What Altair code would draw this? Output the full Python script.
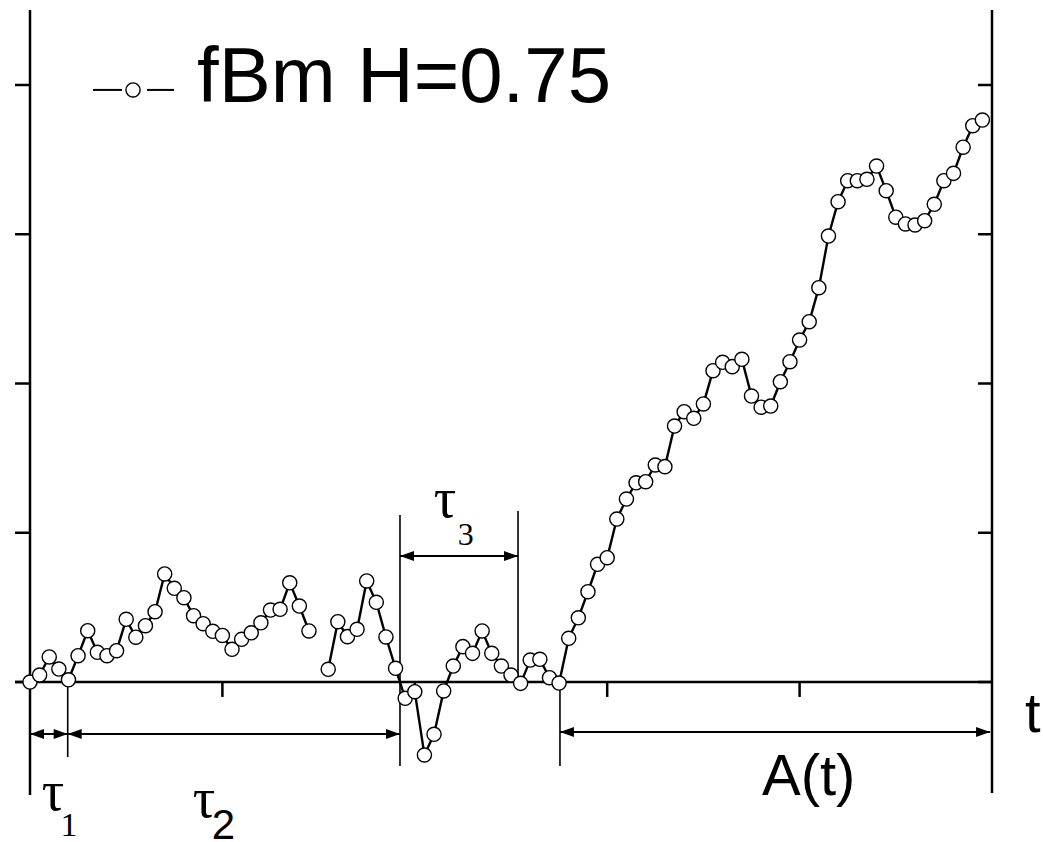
import altair as alt
import pandas as pd

# ---- data: fBm sample path (step index, value in y-tick units) ----
steps = list(range(100))
values = [0.000, 0.047, 0.168, 0.087, 0.015, 0.176, 0.344, 0.199, 0.176, 0.210,
          0.420, 0.300, 0.377, 0.471, 0.724, 0.628, 0.565, 0.444, 0.391, 0.340,
          0.312, 0.219, 0.286, 0.330, 0.397, 0.482, 0.487, 0.665, 0.509, 0.342,
          None, 0.085, 0.404, 0.304, 0.353, 0.677, 0.534, 0.302, 0.092, -0.109,
          -0.065, -0.489, -0.350, -0.060, 0.107, 0.237, 0.192, 0.342, 0.192, 0.107,
          0.047, -0.009, 0.147, 0.152, 0.029, -0.007, 0.293, 0.430, 0.605, 0.789,
          0.833, 1.092, 1.226, 1.335, 1.342, 1.454, 1.443, 1.715, 1.811, 1.767,
          1.863, 2.086, 2.142, 2.113, 2.162, 1.916, 1.841, 1.849, 2.012, 2.146,
          2.291, 2.414, 2.642, 2.988, 3.218, 3.359, 3.359, 3.368, 3.457, 3.292,
          3.114, 3.069, 3.062, 3.091, 3.201, 3.359, 3.408, 3.583, 3.727, 3.765]

y_ticks = [0, 1, 2, 3, 4]
x_ticks = [20, 40, 60, 80]
legend_label = "fBm H=0.75"

# annotation markers (step units / y units)
tau1_end = 3.92
tau2_end = 38.46
tau3_end = 50.73
a_start = 55.09
x_max = 100
y_min, y_max = -0.757, 4.5025

rows = [{"x": s, "y": v, "seg": 0 if s < 30 else 1}
        for s, v in zip(steps, values) if v is not None]
df = pd.DataFrame(rows)

xs = alt.Scale(domain=[0, x_max], nice=False, zero=False)
ys = alt.Scale(domain=[y_min, y_max], nice=False, zero=False)
X = alt.X("x:Q", scale=xs, axis=None)
X2 = alt.X2("x2:Q")
Y = alt.Y("y:Q", scale=ys, axis=None)
Y2 = alt.Y2("y2:Q")

line = alt.Chart(df).mark_line(color="black", strokeWidth=2.4).encode(
    x=X, y=Y, detail="seg:N", order="x:Q")
pts = alt.Chart(df).mark_point(shape="circle", filled=True, fill="white",
                               stroke="black", strokeWidth=1.4, size=200,
                               opacity=1).encode(x=X, y=Y)

# frame: axes lines and ticks
frame_rows = [
    {"x": 0, "x2": 0, "y": y_min, "y2": y_max},
    {"x": x_max, "x2": x_max, "y": -0.744, "y2": y_max},
    {"x": -1.56, "x2": x_max, "y": 0, "y2": 0},
]
for t in y_ticks:
    frame_rows.append({"x": -1.56, "x2": 0, "y": t, "y2": t})
    frame_rows.append({"x": 98.54, "x2": x_max, "y": t, "y2": t})
for t in x_ticks:
    frame_rows.append({"x": t, "x2": t, "y": 0, "y2": -0.1})
frame = alt.Chart(pd.DataFrame(frame_rows)).mark_rule(
    color="black", strokeWidth=2.5).encode(x=X, x2=X2, y=Y, y2=Y2)

# annotation vertical lines and arrows
vlines = pd.DataFrame([
    {"x": tau1_end, "x2": tau1_end, "y": 0, "y2": -0.503},
    {"x": tau2_end, "x2": tau2_end, "y": 1.119, "y2": -0.563},
    {"x": tau3_end, "x2": tau3_end, "y": 1.146, "y2": 0},
    {"x": a_start, "x2": a_start, "y": 0, "y2": -0.563},
])
vl = alt.Chart(vlines).mark_rule(color="black", strokeWidth=1.6).encode(
    x=X, x2=X2, y=Y, y2=Y2)

arrows = pd.DataFrame([
    {"x": 0, "x2": tau1_end, "y": -0.348, "y2": -0.348},
    {"x": tau1_end, "x2": tau2_end, "y": -0.348, "y2": -0.348},
    {"x": tau2_end, "x2": tau3_end, "y": 0.844, "y2": 0.844},
    {"x": a_start, "x2": 99.8, "y": -0.335, "y2": -0.335},
])
ar = alt.Chart(arrows).mark_rule(color="black", strokeWidth=2).encode(
    x=X, x2=X2, y=Y, y2=Y2)

heads_r = pd.DataFrame({"x": [tau1_end, tau2_end, tau3_end, 99.8],
                        "y": [-0.348, -0.348, 0.844, -0.335]})
heads_l = pd.DataFrame({"x": [0, tau1_end, tau2_end, a_start],
                        "y": [-0.348, -0.348, 0.844, -0.335]})
hr = alt.Chart(heads_r).mark_point(shape="M0,0L-1,-0.36L-1,0.36Z", filled=True,
                                   color="black", size=784, opacity=1).encode(x=X, y=Y)
hl = alt.Chart(heads_l).mark_point(shape="M0,0L1,-0.36L1,0.36Z", filled=True,
                                   color="black", size=784, opacity=1).encode(x=X, y=Y)

# legend
leg_line = alt.Chart(pd.DataFrame([
    {"x": 6.55, "x2": 9.56, "y": 3.967, "y2": 3.967},
    {"x": 12.16, "x2": 14.97, "y": 3.967, "y2": 3.967},
])).mark_rule(color="black", strokeWidth=2).encode(x=X, x2=X2, y=Y, y2=Y2)
leg_pt = alt.Chart(pd.DataFrame({"x": [10.71], "y": [3.967]})).mark_point(
    shape="circle", filled=True, fill="white", stroke="black", strokeWidth=1.4,
    size=200, opacity=1).encode(x=X, y=Y)
leg_txt = alt.Chart(pd.DataFrame({"x": [17.36], "y": [3.886], "t": [legend_label]})).mark_text(
    font="Liberation Sans", fontSize=78, align="left", baseline="alphabetic",
    color="black").encode(x=X, y=Y, text="t:N")

# tau labels (serif)
serif = pd.DataFrame([
    {"x": 2.39, "y": -0.858, "t": "τ", "s": 56},
    {"x": 4.05, "y": -1.03, "t": "1", "s": 34},
    {"x": 18.1, "y": -0.905, "t": "τ", "s": 56},
    {"x": 43.14, "y": 1.106, "t": "τ", "s": 56},
    {"x": 45.3, "y": 0.918, "t": "3", "s": 32},
])
serif_txt = alt.Chart(serif).mark_text(
    font="Liberation Serif", align="center", baseline="alphabetic",
    color="black").encode(x=X, y=Y, text="t:N", size=alt.Size("s:Q", scale=None))

sans = pd.DataFrame([
    {"x": 18.9, "y": -1.05, "t": "2", "s": 42},
    {"x": 76.09, "y": -0.757, "t": "A(t)", "s": 58},
    {"x": 103.43, "y": -0.335, "t": "t", "s": 56},
])
sans_txt = alt.Chart(sans).mark_text(
    font="Liberation Sans", align="left", baseline="alphabetic",
    color="black").encode(x=X, y=Y, text="t:N", size=alt.Size("s:Q", scale=None))

chart = alt.layer(
    frame, vl, ar, hr, hl, line, pts, leg_line, leg_pt, leg_txt, serif_txt, sans_txt
).properties(
    width=962, height=785,
    autosize=alt.AutoSizeParams(type="none"),
    padding={"left": 30, "top": 10, "right": 51, "bottom": 47},
    background="white",
).configure_view(stroke=None)

chart.save("out.html", embed_options={"renderer": "svg", "actions": False})
